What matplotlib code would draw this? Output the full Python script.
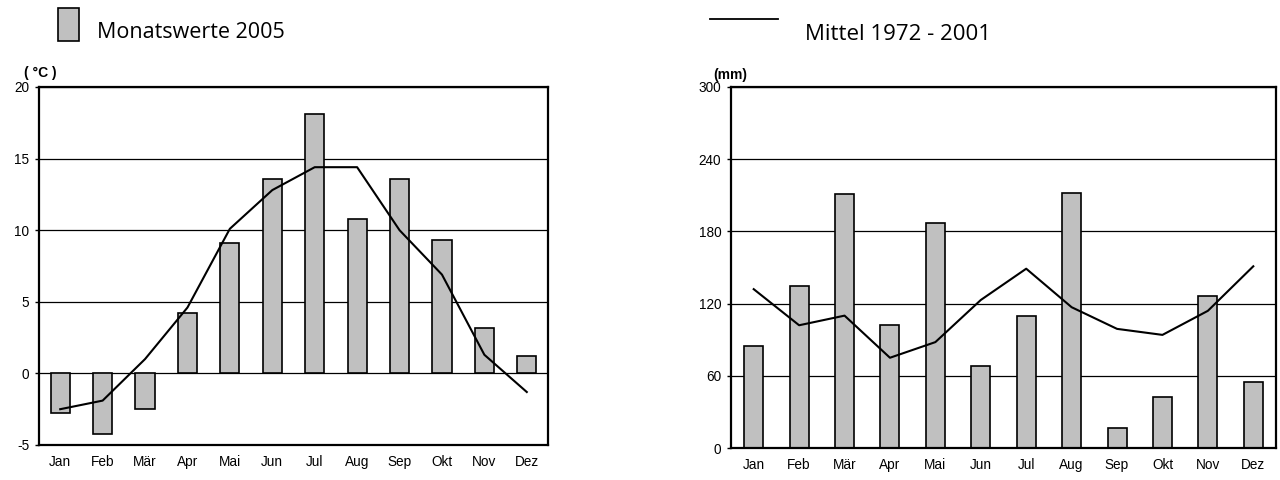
import matplotlib
matplotlib.use("Agg")
import matplotlib.pyplot as plt
import numpy as np

months = ["Jan", "Feb", "Mär", "Apr", "Mai", "Jun", "Jul", "Aug", "Sep", "Okt", "Nov", "Dez"]
temp_2005 = [-2.8, -4.2, -2.5, 4.2, 9.1, 13.6, 18.1, 10.8, 13.6, 9.3, 3.2, 1.2]
temp_mean = [-2.5, -1.9, 1.0, 4.6, 10.1, 12.8, 14.4, 14.4, 10.0, 6.9, 1.3, -1.3]
prec_2005 = [85, 135, 211, 102, 187, 68, 110, 212, 17, 42, 126, 55]
prec_mean = [132, 102, 110, 75, 88, 123, 149, 117, 99, 94, 114, 151]
temp_ticks = [-5, 0, 5, 10, 15, 20]
prec_ticks = [0, 60, 120, 180, 240, 300]
legend_bar = "Monatswerte 2005"
legend_line = "Mittel 1972 - 2001"

plt.rcParams['font.family'] = ['Liberation Sans', 'DejaVu Sans']
plt.rcParams['axes.unicode_minus'] = False

fig = plt.figure(figsize=(12.8, 4.8), dpi=100)
ax1 = fig.add_axes([39/1280, 1-445/480, (548-39)/1280, (445-87)/480])
ax2 = fig.add_axes([731/1280, 1-448/480, (1276-731)/1280, (448-87)/480])

def draw(ax, bars, line, ticks, width):
    x = np.arange(len(months))
    ax.set_axisbelow(True)
    ax.yaxis.grid(True, color='black', linewidth=0.9)
    ax.bar(x, bars, width=width, color='#c0c0c0', edgecolor='black', linewidth=1.2, zorder=2)
    ax.plot(x, line, color='black', linewidth=1.5, zorder=3)
    ax.set_xlim(-0.5, len(months) - 0.5)
    ax.set_ylim(ticks[0], ticks[-1])
    ax.set_yticks(ticks)
    ax.set_xticks(x)
    ax.set_xticklabels(months, fontsize=9.8)
    ax.tick_params(axis='x', length=0, pad=7)
    ax.tick_params(axis='y', length=3, width=1, labelsize=9.8, pad=4, direction='out')
    for s in ax.spines.values():
        s.set_linewidth(1.6)

draw(ax1, temp_2005, temp_mean, temp_ticks, 0.45)
draw(ax2, prec_2005, prec_mean, prec_ticks, 0.42)

fig.text(24/1280, 1-80/480, "( °C )", fontsize=10, fontweight='bold', ha='left', va='bottom')
fig.text(713/1280, 1-82/480, "(mm)", fontsize=10, fontweight='bold', ha='left', va='bottom')

# legend: bar patch
fig.patches.append(matplotlib.patches.Rectangle((58/1280, 1-41/480), 21/1280, 33/480,
                   transform=fig.transFigure, facecolor='#c0c0c0', edgecolor='black', linewidth=1.2))
fig.text(97/1280, 1-33/480, legend_bar, fontsize=15.5, family=['Open Sans', 'DejaVu Sans'],
         ha='left', va='center')
fig.lines.append(matplotlib.lines.Line2D([710/1280, 778/1280], [1-19/480, 1-19/480],
                 transform=fig.transFigure, color='black', linewidth=1.3))
fig.text(805/1280, 1-34/480, legend_line, fontsize=16, family=['Open Sans', 'DejaVu Sans'],
         ha='left', va='center')

fig.savefig("out.png", dpi=100)
